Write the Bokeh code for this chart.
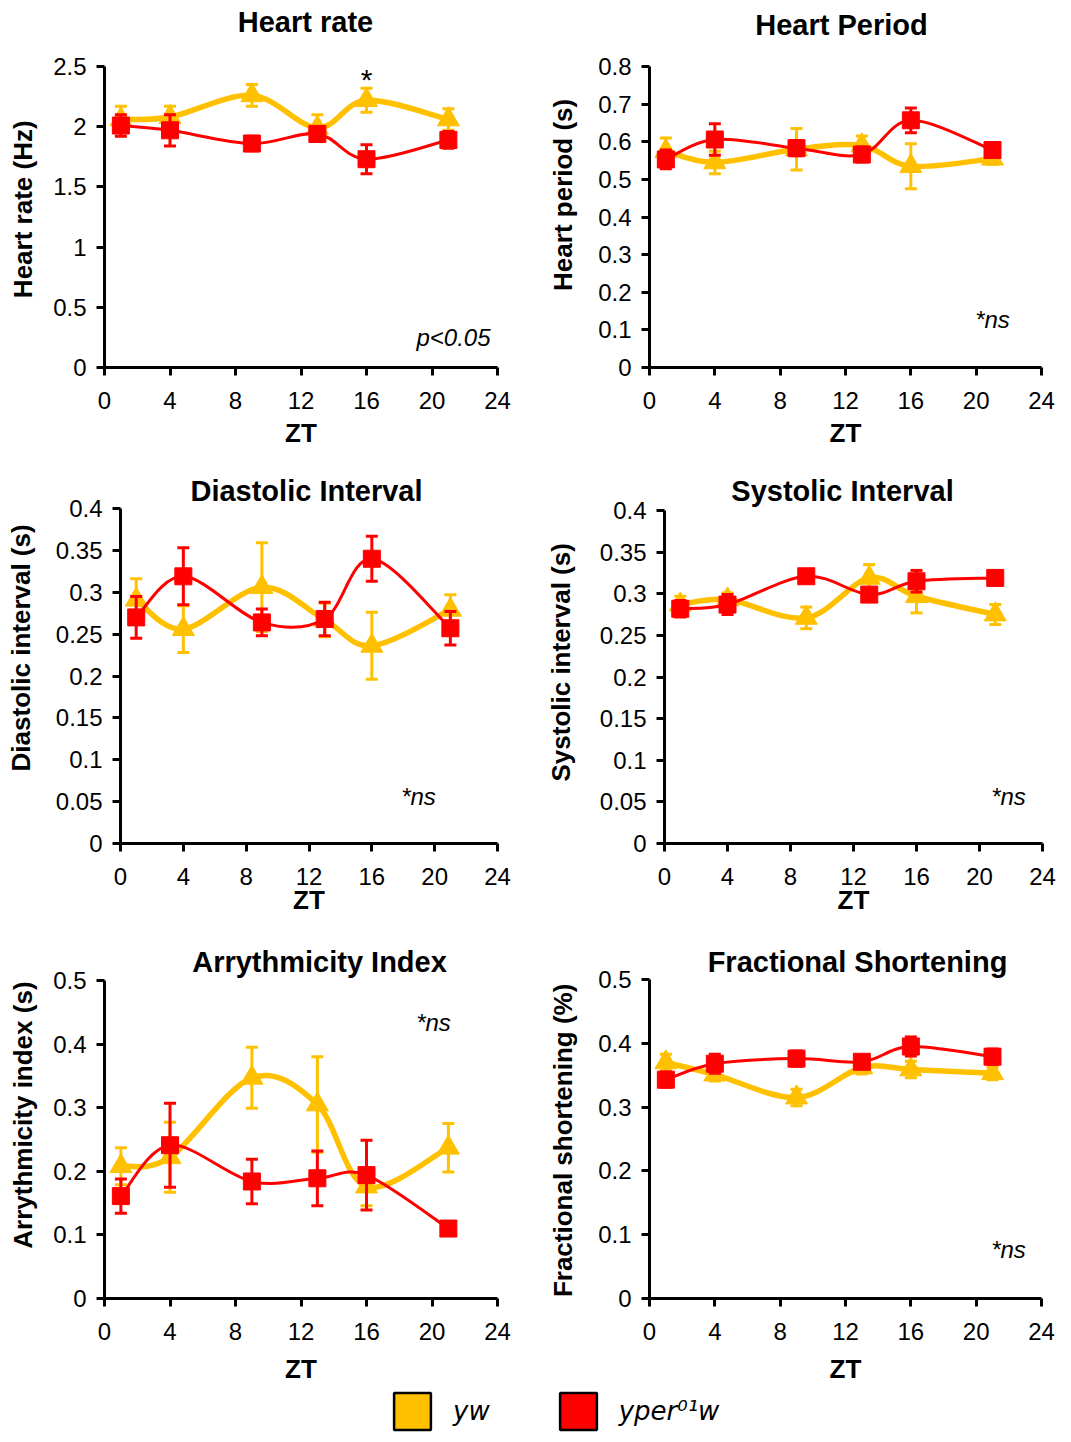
from bokeh.plotting import figure
from bokeh.layouts import column, row
from bokeh.models import (Range1d, FixedTicker, CustomJSTickFormatter, Label,
                          Legend, LegendItem)
from bokeh.embed import file_html
from bokeh.resources import INLINE

# ---------------- data ----------------
zt = [1, 4, 9, 13, 16, 21]
x_ticks = [0, 4, 8, 12, 16, 20, 24]

hr_yw = [2.06, 2.08, 2.26, 1.99, 2.22, 2.06]
hr_yw_err = [0.11, 0.09, 0.09, 0.11, 0.10, 0.09]
hr_per = [2.01, 1.97, 1.86, 1.94, 1.73, 1.89]
hr_per_err = [0.09, 0.13, 0.06, 0.06, 0.12, 0.07]

hp_yw = [0.575, 0.545, 0.58, 0.59, 0.535, 0.555]
hp_yw_err = [0.035, 0.03, 0.055, 0.025, 0.06, 0.015]
hp_per = [0.553, 0.606, 0.583, 0.566, 0.657, 0.578]
hp_per_err = [0.025, 0.042, 0.02, 0.02, 0.033, 0.02]

di_yw = [0.291, 0.256, 0.306, 0.267, 0.236, 0.279]
di_yw_err = [0.025, 0.028, 0.053, 0.02, 0.04, 0.018]
di_per = [0.270, 0.319, 0.264, 0.268, 0.340, 0.257]
di_per_err = [0.025, 0.034, 0.016, 0.02, 0.027, 0.02]

si_yw = [0.287, 0.293, 0.271, 0.319, 0.297, 0.275]
si_yw_err = [0.01, 0.008, 0.013, 0.016, 0.02, 0.012]
si_per = [0.282, 0.287, 0.321, 0.299, 0.315, 0.319]
si_per_err = [0.01, 0.012, 0.005, 0.006, 0.013, 0.008]

ai_yw = [0.208, 0.222, 0.347, 0.305, 0.176, 0.237]
ai_yw_err = [0.029, 0.055, 0.048, 0.075, 0.03, 0.038]
ai_per = [0.161, 0.241, 0.184, 0.189, 0.194, 0.110]
ai_per_err = [0.027, 0.066, 0.035, 0.043, 0.055, 0.008]

fs_yw = [0.370, 0.351, 0.315, 0.362, 0.359, 0.353]
fs_yw_err = [0.013, 0.01, 0.013, 0.01, 0.013, 0.01]
fs_per = [0.343, 0.368, 0.376, 0.371, 0.395, 0.379]
fs_per_err = [0.012, 0.015, 0.012, 0.01, 0.015, 0.012]

titles = ["Heart rate", "Heart Period", "Diastolic Interval",
          "Systolic Interval", "Arrythmicity Index", "Fractional Shortening"]
ylabels = ["Heart rate (Hz)", "Heart period (s)", "Diastolic interval (s)",
           "Systolic interval (s)", "Arrythmicity index (s)", "Fractional shortening (%)"]
yticks = [[0, 0.5, 1, 1.5, 2, 2.5],
          [0, 0.1, 0.2, 0.3, 0.4, 0.5, 0.6, 0.7, 0.8],
          [0, 0.05, 0.1, 0.15, 0.2, 0.25, 0.3, 0.35, 0.4],
          [0, 0.05, 0.1, 0.15, 0.2, 0.25, 0.3, 0.35, 0.4],
          [0, 0.1, 0.2, 0.3, 0.4, 0.5],
          [0, 0.1, 0.2, 0.3, 0.4, 0.5]]
legend_labels = ["yw", "yper\u2070\u00b9w"]

# ---------------- style / layout ----------------
FONT = "Liberation Sans"
YW = "#FFC000"
PER = "#FF0000"
NBSP = "\u00a0"

# px, py: page position of the figure; bt: space above the axis top (kept inside frame)
# ylab_pad: (leading, trailing) no-break spaces that shift the rotated y label along the axis
specs = [
    dict(px=0, py=1, bl=104, br=38, fw=393, bt=66, fh=301, bb=92, ylab_st=12, xlab_st=6,
         ylab_pad=(0, 7), title_xy=(305, 22),
         notes=[("*", 366, 80, "normal", "30px"), ("p<0.05", 453, 338, "italic", "24px")]),
    dict(px=535, py=1, bl=114, br=22, fw=392, bt=66, fh=301, bb=92, ylab_st=17, xlab_st=6,
         ylab_pad=(0, 3), title_xy=(841, 25), notes=[("*ns", 992, 320, "italic", "24px")]),
    dict(px=0, py=460, bl=120, br=38, fw=377, bt=49, fh=335, bb=81, ylab_st=17, xlab_st=-3,
         ylab_pad=(1, 0), title_xy=(306, 491), notes=[("*ns", 418, 797, "italic", "24px")]),
    dict(px=535, py=460, bl=129, br=21, fw=378, bt=51, fh=333, bb=81, ylab_st=21, xlab_st=-3,
         ylab_pad=(0, 3), title_xy=(842, 491), notes=[("*ns", 1008, 797, "italic", "24px")]),
    dict(px=0, py=925, bl=104, br=38, fw=393, bt=56, fh=318, bb=88, ylab_st=12, xlab_st=11,
         ylab_pad=(0, 1), title_xy=(319, 962), notes=[("*ns", 433, 1023, "italic", "24px")]),
    dict(px=535, py=925, bl=114, br=22, fw=392, bt=55, fh=319, bb=88, ylab_st=17, xlab_st=11,
         ylab_pad=(0, 8), title_xy=(857, 962), notes=[("*ns", 1008, 1250, "italic", "24px")]),
]

series = [(hr_yw, hr_yw_err, hr_per, hr_per_err),
          (hp_yw, hp_yw_err, hp_per, hp_per_err),
          (di_yw, di_yw_err, di_per, di_per_err),
          (si_yw, si_yw_err, si_per, si_per_err),
          (ai_yw, ai_yw_err, ai_per, ai_per_err),
          (fs_yw, fs_yw_err, fs_per, fs_per_err)]


def smooth(xs, ys):
    """Bezier segments of a Catmull-Rom style smoothed line (like Excel smoothing)."""
    n = len(xs)
    out = dict(x0=[], y0=[], x1=[], y1=[], cx0=[], cy0=[], cx1=[], cy1=[])
    for i in range(n - 1):
        xp, yp = (xs[i - 1], ys[i - 1]) if i > 0 else (xs[i], ys[i])
        xn, yn = (xs[i + 2], ys[i + 2]) if i + 2 < n else (xs[i + 1], ys[i + 1])
        out["x0"].append(xs[i]); out["y0"].append(ys[i])
        out["x1"].append(xs[i + 1]); out["y1"].append(ys[i + 1])
        out["cx0"].append(xs[i] + (xs[i + 1] - xp) / 6.0)
        out["cy0"].append(ys[i] + (ys[i + 1] - yp) / 6.0)
        out["cx1"].append(xs[i + 1] - (xn - xs[i]) / 6.0)
        out["cy1"].append(ys[i + 1] - (yn - ys[i]) / 6.0)
    return out


def draw_series(p, ys, errs, color, lw, marker, msize):
    lo = [v - e for v, e in zip(ys, errs)]
    hi = [v + e for v, e in zip(ys, errs)]
    b = smooth(zt, ys)
    p.bezier(x0=b["x0"], y0=b["y0"], x1=b["x1"], y1=b["y1"], cx0=b["cx0"], cy0=b["cy0"],
             cx1=b["cx1"], cy1=b["cy1"], line_color=color, line_width=lw, line_cap="round")
    p.segment(x0=zt, y0=lo, x1=zt, y1=hi, line_color=color, line_width=3)
    p.scatter(x=zt, y=hi, marker="dash", size=12, line_color=color, line_width=3)
    p.scatter(x=zt, y=lo, marker="dash", size=12, line_color=color, line_width=3)
    p.scatter(x=zt, y=ys, marker=marker, size=msize, fill_color=color, line_color=color)


panels = []
for k, s in enumerate(specs):
    ymax = yticks[k][-1]
    frame_h = s["bt"] + s["fh"]          # frame includes the title area above the axis
    ytop = ymax * frame_h / s["fh"]
    p = figure(width=s["bl"] + s["fw"] + s["br"], height=frame_h + s["bb"],
               frame_width=s["fw"], frame_height=frame_h,
               min_border_left=s["bl"], min_border_right=s["br"],
               min_border_top=0, min_border_bottom=s["bb"],
               x_range=Range1d(0, 24), y_range=Range1d(0, ytop),
               title_location=None,
               output_backend="svg", toolbar_location=None,
               outline_line_color=None, background_fill_color="white",
               border_fill_color="white")
    p.grid.visible = False
    for ax in (p.xaxis[0], p.yaxis[0]):
        ax.axis_line_width = 3
        ax.axis_line_color = "black"
        ax.major_tick_line_width = 3
        ax.major_tick_line_color = "black"
        ax.major_tick_out = 8
        ax.major_tick_in = 0
        ax.minor_tick_out = 0
        ax.minor_tick_in = 0
        ax.major_label_text_font = FONT
        ax.major_label_text_font_size = "24px"
        ax.major_label_text_color = "black"
        ax.axis_label_text_font = FONT
        ax.axis_label_text_font_size = "26px"
        ax.axis_label_text_font_style = "bold"
        ax.axis_label_text_color = "black"
    p.xaxis[0].major_label_standoff = 16
    p.yaxis[0].major_label_standoff = 10
    p.xaxis[0].ticker = FixedTicker(ticks=x_ticks)
    p.xaxis[0].axis_label = "ZT"
    p.xaxis[0].axis_label_standoff = s["xlab_st"]
    p.yaxis[0].ticker = FixedTicker(ticks=yticks[k])
    p.yaxis[0].bounds = (0, ymax)
    p.yaxis[0].formatter = CustomJSTickFormatter(code="return String(Math.round(tick*1000)/1000)")
    lead, trail = s["ylab_pad"]
    p.yaxis[0].axis_label = NBSP * lead + ylabels[k] + NBSP * trail
    p.yaxis[0].axis_label_standoff = s["ylab_st"]

    yw, yw_e, per, per_e = series[k]
    draw_series(p, yw, yw_e, YW, 5.5, "triangle", 22)
    draw_series(p, per, per_e, PER, 3, "square", 17)

    fl = s["px"] + s["bl"]
    fb = s["py"] + frame_h

    def to_data(X, Y, fl=fl, fb=fb, s=s, ytop=ytop, frame_h=frame_h):
        return (X - fl) / s["fw"] * 24.0, ytop * (fb - Y) / frame_h

    tx, ty = to_data(*s["title_xy"])
    p.add_layout(Label(x=tx, y=ty, text=titles[k], text_align="center", text_baseline="middle",
                       text_font=FONT, text_font_size="29px", text_font_style="bold",
                       text_color="black"))
    for txt, X, Y, style, fs in s["notes"]:
        nx, ny = to_data(X, Y)
        p.add_layout(Label(x=nx, y=ny, text=txt, text_align="center", text_baseline="middle",
                           text_font=FONT, text_font_size=fs, text_font_style=style,
                           text_color="black"))
    panels.append(p)

# ---------------- legend strip ----------------
lf = figure(width=1063, height=48, x_range=Range1d(0, 1), y_range=Range1d(0, 1),
            output_backend="svg", toolbar_location=None, min_border=0, title_location=None,
            x_axis_location=None, y_axis_location=None, outline_line_color=None,
            background_fill_color="white", border_fill_color="white")
lf.grid.visible = False
# off-range proxies: only their legend swatches are visible
r1 = lf.rect(x=[5], y=[5], width=1, height=1, fill_color=YW, line_color="black", line_width=2.5)
r2 = lf.rect(x=[5], y=[5], width=1, height=1, fill_color=PER, line_color="black", line_width=2.5)
leg = Legend(items=[LegendItem(label=legend_labels[0], renderers=[r1]),
                    LegendItem(label=legend_labels[1], renderers=[r2])],
             orientation="horizontal", location=(389, 0), glyph_width=46, glyph_height=46,
             label_standoff=18, spacing=65, padding=0, margin=0,
             border_line_alpha=0, background_fill_alpha=0,
             label_text_font="DejaVu Sans", label_text_font_size="26px",
             label_text_font_style="italic", label_text_color="black")
lf.add_layout(leg)

layout = column(row(panels[0], panels[1]), row(panels[2], panels[3]),
                row(panels[4], panels[5]), lf, spacing=0)

open("out.html", "w").write(file_html(layout, INLINE))
